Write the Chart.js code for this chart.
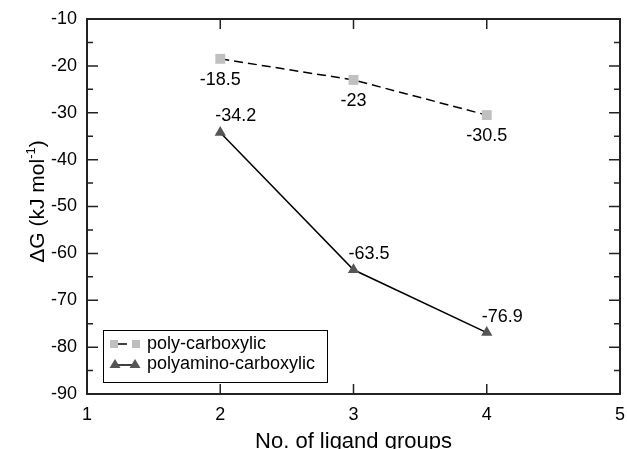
<!DOCTYPE html>
<html>
<head>
<meta charset="utf-8">
<script src="https://cdn.jsdelivr.net/npm/chart.js@4.4.1/dist/chart.umd.min.js"></script>
<style>
html,body{margin:0;padding:0;background:#fff;}
canvas{display:block;}
</style>
</head>
<body>
<canvas id="c" width="627" height="449"></canvas>
<script>
// ---- data ----
const ligandGroups = [2, 3, 4];
const polyCarboxylic = [-18.5, -23, -30.5];
const polyaminoCarboxylic = [-34.2, -63.5, -76.9];
const seriesNames = ['poly-carboxylic', 'polyamino-carboxylic'];
const xTickValues = [1, 2, 3, 4, 5];
const yTickValues = [-90, -80, -70, -60, -50, -40, -30, -20, -10];
const yMinorValues = [-85, -75, -65, -55, -45, -35, -25, -15];
const xTitle = 'No. of ligand groups';
const yTitleParts = ['\u0394G (kJ mol', '-1', ')'];

const FONT = "'Liberation Sans', Arial, Helvetica, sans-serif";
const SQ_COLOR = '#c0c0c0';
const TRI_COLOR = '#555555';

function pts(xs, ys) { return xs.map((x, i) => ({x: x, y: ys[i]})); }

const overlay = {
  id: 'overlay',
  afterDraw(chart) {
    const ctx = chart.ctx;
    const a = chart.chartArea;
    const xs = chart.scales.x, ys = chart.scales.y;
    ctx.save();
    // frame
    ctx.strokeStyle = '#222';
    ctx.lineWidth = 2;
    ctx.strokeRect(a.left, a.top, a.right - a.left, a.bottom - a.top);
    // inward ticks
    ctx.lineWidth = 1.5;
    ctx.beginPath();
    xTickValues.forEach(v => {
      if (v === xs.min || v === xs.max) return;
      const px = xs.getPixelForValue(v);
      ctx.moveTo(px, a.top); ctx.lineTo(px, a.top + 10);
      ctx.moveTo(px, a.bottom); ctx.lineTo(px, a.bottom - 10);
    });
    yTickValues.forEach(v => {
      if (v === ys.min || v === ys.max) return;
      const py = ys.getPixelForValue(v);
      ctx.moveTo(a.left, py); ctx.lineTo(a.left + 11, py);
      ctx.moveTo(a.right, py); ctx.lineTo(a.right - 11, py);
    });
    yMinorValues.forEach(v => {
      const py = ys.getPixelForValue(v);
      ctx.moveTo(a.left, py); ctx.lineTo(a.left + 6, py);
      ctx.moveTo(a.right, py); ctx.lineTo(a.right - 6, py);
    });
    ctx.stroke();

    // data labels
    ctx.fillStyle = '#000';
    ctx.font = '18px ' + FONT;
    ctx.textBaseline = 'middle';
    chart.getDatasetMeta(0).data.forEach((el, i) => {
      ctx.textAlign = 'center';
      ctx.fillText(String(polyCarboxylic[i]), el.x, el.y + 21);
    });
    chart.getDatasetMeta(1).data.forEach((el, i) => {
      ctx.textAlign = 'left';
      ctx.fillText(String(polyaminoCarboxylic[i]), el.x - 5, el.y - 16);
    });

    // x title
    ctx.font = '22px ' + FONT;
    ctx.textAlign = 'center';
    ctx.textBaseline = 'alphabetic';
    ctx.fillText(xTitle, (a.left + a.right) / 2, 448);

    // y title (rotated, with superscript)
    ctx.save();
    ctx.translate(44, (a.top + a.bottom) / 2 - 5);
    ctx.rotate(-Math.PI / 2);
    ctx.font = '21px ' + FONT;
    const w0 = ctx.measureText(yTitleParts[0]).width;
    ctx.font = '13px ' + FONT;
    const w1 = ctx.measureText(yTitleParts[1]).width;
    ctx.font = '21px ' + FONT;
    const w2 = ctx.measureText(yTitleParts[2]).width;
    let x0 = -(w0 + w1 + w2) / 2;
    ctx.textAlign = 'left';
    ctx.fillText(yTitleParts[0], x0, 0);
    ctx.font = '13px ' + FONT;
    ctx.fillText(yTitleParts[1], x0 + w0, -9);
    ctx.font = '21px ' + FONT;
    ctx.fillText(yTitleParts[2], x0 + w0 + w1, 0);
    ctx.restore();

    // legend
    const lx = 103, ly = 330, lw = 224, lh = 52;
    ctx.fillStyle = '#fff';
    ctx.fillRect(lx, ly, lw, lh);
    ctx.strokeStyle = '#000';
    ctx.lineWidth = 1;
    ctx.strokeRect(lx + 0.5, ly + 0.5, lw, lh);
    const r1 = 344, r2 = 364;
    // entry 1: squares with dash
    ctx.strokeStyle = '#000';
    ctx.lineWidth = 1.5;
    ctx.beginPath(); ctx.moveTo(118, r1); ctx.lineTo(127, r1); ctx.stroke();
    ctx.fillStyle = SQ_COLOR;
    ctx.fillRect(110, r1 - 4, 8, 8);
    ctx.fillRect(132, r1 - 4, 8, 8);
    // entry 2: triangles with line
    ctx.beginPath(); ctx.moveTo(115, r2 + 1); ctx.lineTo(135, r2 + 1); ctx.stroke();
    ctx.fillStyle = TRI_COLOR;
    [115, 135].forEach(cx => {
      ctx.beginPath();
      ctx.moveTo(cx, r2 - 5); ctx.lineTo(cx + 5.5, r2 + 4); ctx.lineTo(cx - 5.5, r2 + 4);
      ctx.closePath(); ctx.fill();
    });
    ctx.fillStyle = '#000';
    ctx.font = '18px ' + FONT;
    ctx.textAlign = 'left';
    ctx.textBaseline = 'middle';
    ctx.fillText(seriesNames[0], 147, r1);
    ctx.fillText(seriesNames[1], 147, r2);
    ctx.restore();
  }
};

new Chart(document.getElementById('c'), {
  type: 'line',
  data: {
    datasets: [
      {
        label: seriesNames[0],
        data: pts(ligandGroups, polyCarboxylic),
        borderColor: '#000',
        borderWidth: 1.5,
        borderDash: [9, 5],
        pointStyle: 'rect',
        pointRadius: 7,
        pointBackgroundColor: SQ_COLOR,
        pointBorderWidth: 0,
        pointBorderColor: SQ_COLOR,
        tension: 0
      },
      {
        label: seriesNames[1],
        data: pts(ligandGroups, polyaminoCarboxylic),
        borderColor: '#000',
        borderWidth: 1.5,
        pointStyle: 'triangle',
        pointRadius: 6.5,
        pointBackgroundColor: TRI_COLOR,
        pointBorderWidth: 0,
        pointBorderColor: TRI_COLOR,
        tension: 0
      }
    ]
  },
  options: {
    responsive: false,
    devicePixelRatio: 1,
    animation: false,
    layout: { padding: { top: 19, right: 5, left: 0, bottom: 0 } },
    plugins: { legend: { display: false }, tooltip: { enabled: false } },
    scales: {
      x: {
        type: 'linear',
        min: 1, max: 5,
        afterBuildTicks: s => { s.ticks = xTickValues.map(v => ({value: v})); },
        ticks: { color: '#000', font: { family: FONT, size: 18 }, padding: 10, maxRotation: 0 },
        grid: { display: false, drawTicks: false },
        border: { display: false },
        afterFit: s => { s.height = 55; s.paddingLeft = 0; s.paddingRight = 0; }
      },
      y: {
        type: 'linear',
        min: -90, max: -10,
        afterBuildTicks: s => { s.ticks = yTickValues.map(v => ({value: v})); },
        ticks: { color: '#000', font: { family: FONT, size: 18 }, padding: 10 },
        grid: { display: false, drawTicks: false },
        border: { display: false },
        afterFit: s => { s.width = 87; s.paddingTop = 0; s.paddingBottom = 0; }
      }
    }
  },
  plugins: [overlay]
});
</script>
</body>
</html>
